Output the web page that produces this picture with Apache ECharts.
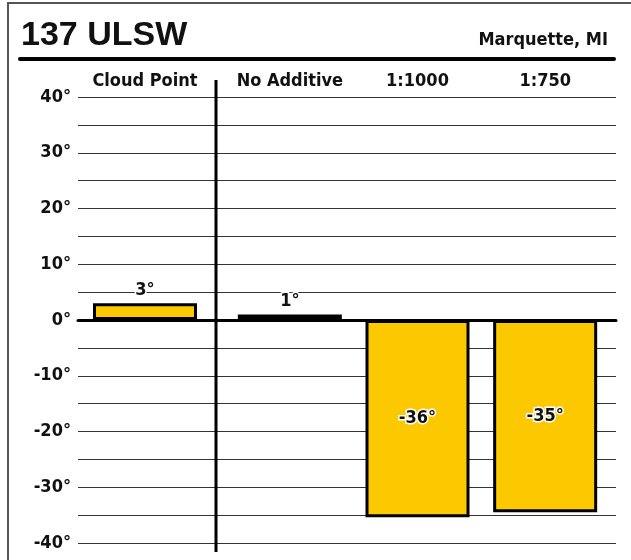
<!DOCTYPE html>
<html>
<head>
<meta charset="utf-8">
<script src="https://cdn.jsdelivr.net/npm/echarts@6/dist/echarts.min.js"></script>
<style>html,body{margin:0;padding:0;background:#fff;}#c{width:631px;height:560px;}</style>
</head>
<body>
<div id="c"></div>
<script>
const categories = ['Cloud Point', 'No Additive', '1:1000', '1:750'];
const values = [3, 1, -35.4, -34.5];
const valueLabels = ['3°', '1°', '-36°', '-35°'];
const yTicks = [-40, -30, -20, -10, 0, 10, 20, 30, 40];

const narrow = '"Liberation Sans Narrow", "DejaVu Sans Condensed", sans-serif';
const barColor = '#FCC800';

function items(from, to) {
  const out = [];
  for (let i = from; i < to; i++) {
    out.push({
      value: values[i],
      label: {
        show: true,
        position: values[i] >= 0 ? 'top' : 'inside',
        distance: 4,
        formatter: valueLabels[i],
        fontFamily: narrow, fontWeight: 'bold', fontSize: 18, color: '#111',
        textBorderColor: '#fff', textBorderWidth: 3
      }
    });
  }
  return out;
}

const chart = echarts.init(document.getElementById('c'), null, {renderer: 'canvas'});
const common = {top: 97, bottom: 17};
const catLabel = {margin: 7, interval: 0, hideOverlap: false, fontFamily: narrow, fontWeight: 'bold', fontSize: 18, color: '#111'};
chart.setOption({
  animation: false,
  backgroundColor: '#fff',
  title: [
    {text: '137 ULSW', left: 21, top: 19, padding: 0,
     textStyle: {fontFamily: '"Liberation Sans", Arial, sans-serif', fontWeight: 'bold', fontSize: 34, color: '#111'}},
    {text: 'Marquette, MI', right: 23, top: 31, padding: 0,
     textStyle: {fontFamily: narrow, fontWeight: 'bold', fontSize: 18, color: '#111'}}
  ],
  grid: [
    Object.assign({left: 78, right: 15}, common),
    Object.assign({left: 78, width: 134}, common),
    Object.assign({left: 226, right: 22}, common)
  ],
  xAxis: [
    {gridIndex: 0, type: 'category', data: categories, axisLabel: {show: false}, axisTick: {show: false},
     axisLine: {show: true, onZero: true, lineStyle: {color: '#000', width: 3}}, z: 5},
    {gridIndex: 1, type: 'category', position: 'top', data: categories.slice(0, 1),
     axisLine: {show: false, onZero: false}, axisTick: {show: false}, axisLabel: catLabel},
    {gridIndex: 2, type: 'category', position: 'top', data: categories.slice(1),
     axisLine: {show: false, onZero: false}, axisTick: {show: false}, axisLabel: catLabel}
  ],
  yAxis: [
    {gridIndex: 0, type: 'value', min: yTicks[0], max: yTicks[yTicks.length - 1], interval: 5,
     axisLine: {show: false}, axisTick: {show: false},
     splitLine: {show: true, lineStyle: {color: '#333', width: 1}},
     axisLabel: {margin: 7, fontFamily: narrow, fontWeight: 'bold', fontSize: 18, color: '#111',
       formatter: v => (yTicks.indexOf(v) >= 0 ? v + '°' : '')}},
    {gridIndex: 1, type: 'value', min: yTicks[0], max: yTicks[yTicks.length - 1], show: false},
    {gridIndex: 2, type: 'value', min: yTicks[0], max: yTicks[yTicks.length - 1], show: false}
  ],
  series: [
    {type: 'bar', xAxisIndex: 1, yAxisIndex: 1, barWidth: 104, data: items(0, 1),
     itemStyle: {color: barColor, borderColor: '#000', borderWidth: 3}, z: 3},
    {type: 'bar', xAxisIndex: 2, yAxisIndex: 2, barWidth: 104, data: items(1, 4),
     itemStyle: {color: barColor, borderColor: '#000', borderWidth: 3}, z: 3}
  ],
  graphic: [
    {type: 'rect', shape: {x: 8, y: 3, width: 640, height: 580}, style: {fill: null, stroke: '#555', lineWidth: 2}, silent: true},
    {type: 'line', shape: {x1: 20, y1: 59, x2: 614, y2: 59}, style: {stroke: '#000', lineWidth: 4, lineCap: 'round'}, silent: true},
    {type: 'line', shape: {x1: 216, y1: 80, x2: 216, y2: 552}, style: {stroke: '#000', lineWidth: 3}, silent: true, z: 10}
  ]
});
</script>
</body>
</html>
